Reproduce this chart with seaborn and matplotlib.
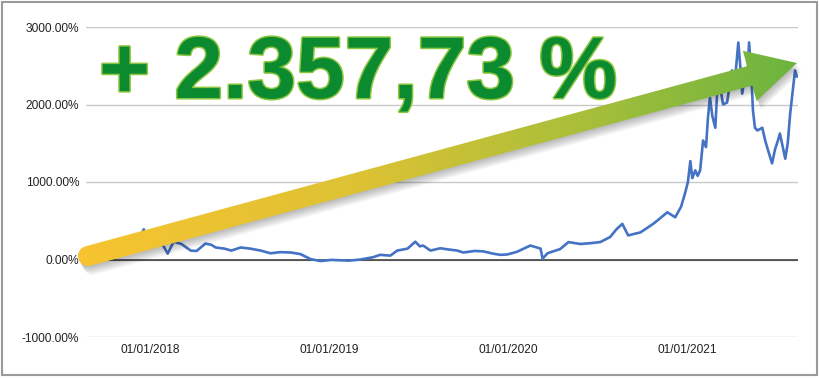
import numpy as np
import pandas as pd
import matplotlib.pyplot as plt
import matplotlib.dates as mdates
import matplotlib.patheffects as pe
from matplotlib.colors import LinearSegmentedColormap
from matplotlib.patches import Polygon, Rectangle
import seaborn as sns

# cumulative return (%)
dates = ["2017-08-22", "2017-09-05", "2017-09-20", "2017-10-05", "2017-10-20",
         "2017-11-05", "2017-11-21", "2017-12-05", "2017-12-18", "2017-12-28",
         "2018-01-07", "2018-01-21", "2018-02-05", "2018-02-17", "2018-03-05",
         "2018-03-24", "2018-04-05", "2018-04-23", "2018-05-05", "2018-05-14",
         "2018-06-01", "2018-06-15", "2018-07-04", "2018-07-24", "2018-08-14",
         "2018-09-03", "2018-09-23", "2018-10-15", "2018-11-03", "2018-11-24",
         "2018-12-14", "2019-01-05", "2019-01-24", "2019-02-10", "2019-03-06",
         "2019-04-01", "2019-04-15", "2019-05-06", "2019-05-20", "2019-06-10",
         "2019-06-26", "2019-07-05", "2019-07-12", "2019-07-27", "2019-08-16",
         "2019-09-01", "2019-09-20", "2019-10-02", "2019-10-25", "2019-11-12",
         "2019-12-02", "2019-12-17", "2019-12-31", "2020-01-20", "2020-02-16",
         "2020-03-03", "2020-03-08", "2020-03-12", "2020-03-22", "2020-04-17",
         "2020-05-04", "2020-05-28", "2020-06-17", "2020-07-08", "2020-07-28",
         "2020-08-10", "2020-08-22", "2020-09-03", "2020-09-15", "2020-09-28",
         "2020-10-10", "2020-10-24", "2020-11-05", "2020-11-22", "2020-12-08",
         "2020-12-20", "2020-12-28", "2021-01-03", "2021-01-08", "2021-01-12",
         "2021-01-18", "2021-01-23", "2021-01-28", "2021-02-03", "2021-02-09",
         "2021-02-13", "2021-02-17", "2021-02-22", "2021-02-28", "2021-03-04",
         "2021-03-10", "2021-03-16", "2021-03-24", "2021-04-03", "2021-04-09",
         "2021-04-16", "2021-04-20", "2021-04-24", "2021-04-30", "2021-05-04",
         "2021-05-08", "2021-05-12", "2021-05-16", "2021-05-20", "2021-05-25",
         "2021-06-04", "2021-06-10", "2021-06-16", "2021-06-24", "2021-06-30",
         "2021-07-06", "2021-07-10", "2021-07-21", "2021-07-26", "2021-07-31",
         "2021-08-06", "2021-08-10", "2021-08-14"]
returns = [0, -20, -15, 10, 30,
           60, 140, 220, 390, 280,
           330, 245, 75, 230, 200,
           115, 110, 205, 190, 155,
           140, 115, 155, 140, 115,
           80, 95, 90, 70, 5,
           -20, -5, -10, -15, 0,
           30, 60, 50, 115, 140,
           230, 170, 180, 115, 145,
           130, 115, 90, 110, 105,
           75, 60, 65, 100, 180,
           150, 140, 10, 80, 135,
           225, 200, 210, 225, 290,
           390, 460, 310, 330, 350,
           400, 460, 520, 610, 545,
           680, 850, 1000, 1270, 1050,
           1150, 1080, 1150, 1535, 1450,
           1830, 2090, 1850, 1700, 2180,
           2220, 2000, 2025, 2440, 2300,
           2800, 2500, 2140, 2400, 2250,
           2800, 2450, 1920, 1700, 1665,
           1700, 1535, 1405, 1240, 1420,
           1535, 1625, 1300, 1500, 1880,
           2220, 2440, 2358]

y_ticks = [-1000, 0, 1000, 2000, 3000]
x_ticks = ["2018-01-01", "2019-01-01", "2020-01-01", "2021-01-01"]
headline = "+ 2.357,73 %"

sns.set_style("white")
plt.rcParams['font.family'] = ['Liberation Sans', 'DejaVu Sans']

df = pd.DataFrame({'date': pd.to_datetime(dates), 'ret': returns})

W, H = 820, 378
fig = plt.figure(figsize=(W / 100, H / 100), dpi=100)
ax = fig.add_axes([86 / W, 41 / H, 712 / W, 310 / H])
sns.lineplot(data=df, x='date', y='ret', ax=ax, color='#4472c4', lw=1.9, zorder=3)
ax.axhline(0, color='#333333', lw=1.1, zorder=2)
ax.set_xlim(pd.Timestamp('2017-08-22'), pd.Timestamp('2021-08-16'))
ax.set_ylim(-1000, 3000)
ax.set_yticks(y_ticks)
ax.yaxis.set_major_formatter(lambda v, p: f'{v:.2f}%')
ax.set_xticks(pd.to_datetime(x_ticks))
ax.xaxis.set_major_formatter(mdates.DateFormatter('%d/%m/%Y'))
ax.grid(axis='y', color='#c8c8c8', lw=1)
ax.grid(axis='x', visible=False)
sns.despine(ax=ax, left=True, bottom=True)
ax.tick_params(length=0, labelsize=8.6, colors='#222222', pad=5)
ax.set_xlabel('')
ax.set_ylabel('')

# overlay in pixel coordinates for the decoration
ov = fig.add_axes([0, 0, 1, 1])
ov.patch.set_alpha(0)
ov.axis('off')

ov.add_patch(Rectangle((2, 2), W - 5, H - 5, fill=False, ec='#9a9a9a', lw=1.5))

# arrow
S = np.array([88.0, 256.0])
T = np.array([797.0, 63.0])
u = (T - S) / np.linalg.norm(T - S)
n = np.array([-u[1], u[0]])
w, hw, hl = 10, 26, 49
B = T - hl * u
th = np.linspace(np.pi, 0, 20)
arc = S + w * (np.outer(np.cos(th), n) - np.outer(np.sin(th), u))
pts = np.vstack([S + w * n, B + w * n, B + hw * n, T, B - hw * n, B - w * n, arc])

# soft drop shadow
for k in range(1, 9):
    ov.add_patch(Polygon(pts + np.array([0.6 * k, 1.1 * k]), closed=True,
                         fc='k', ec='none', alpha=0.035, zorder=4))

poly = Polygon(pts, closed=True, fc='none', ec='none', zorder=5)
ov.add_patch(poly)
cmap = LinearSegmentedColormap.from_list('arr', [(0, '#f8c430'), (0.4, '#dcc234'),
                                                 (0.7, '#a9bf3a'), (1, '#6bb43f')])
grad = np.linspace(0, 1, 256).reshape(1, -1)
im = ov.imshow(grad, cmap=cmap, extent=[S[0] - w, T[0], H, 0], aspect='auto', zorder=5)
im.set_clip_path(poly)

ov.text(99, 98, headline, fontsize=63, fontweight='bold', color='#0c8a30',
        ha='left', va='baseline', zorder=6,
        path_effects=[pe.withStroke(linewidth=2.2, foreground='#8cc63f')])

ov.set_xlim(0, W)
ov.set_ylim(H, 0)

fig.savefig('out.png', dpi=100)
